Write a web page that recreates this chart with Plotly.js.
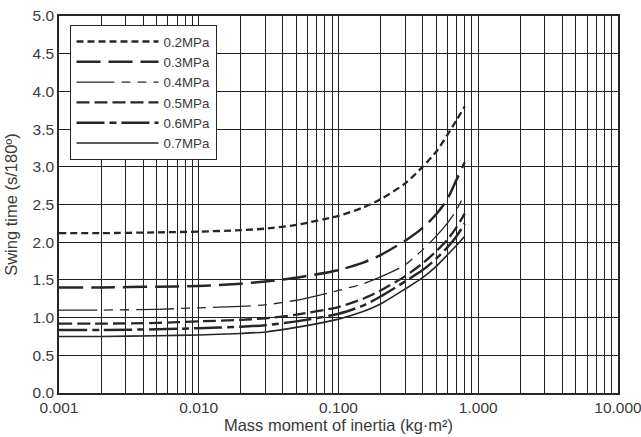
<!DOCTYPE html>
<html>
<head>
<meta charset="utf-8">
<script src="https://cdn.plot.ly/plotly-3.0.1.min.js"></script>
<style>html,body{margin:0;padding:0;background:#fff;}#chart{width:641px;height:437px;}</style>
</head>
<body>
<div id="chart"></div>
<script>
// Data
const inertia = [0.001, 0.002, 0.005, 0.01, 0.02, 0.03, 0.05, 0.1, 0.15, 0.2, 0.3, 0.4, 0.5, 0.6, 0.7, 0.8];
const p02 = [2.12, 2.12, 2.13, 2.14, 2.16, 2.18, 2.23, 2.35, 2.46, 2.57, 2.78, 3.00, 3.20, 3.42, 3.62, 3.80];
const p03 = [1.40, 1.40, 1.41, 1.42, 1.45, 1.48, 1.53, 1.63, 1.73, 1.83, 2.02, 2.19, 2.37, 2.57, 2.83, 3.06];
const p04 = [1.10, 1.10, 1.11, 1.13, 1.15, 1.17, 1.23, 1.36, 1.45, 1.54, 1.70, 1.90, 2.08, 2.25, 2.43, 2.64];
const p05 = [0.92, 0.92, 0.93, 0.95, 0.97, 0.99, 1.04, 1.14, 1.25, 1.36, 1.55, 1.72, 1.88, 2.03, 2.20, 2.38];
const p06 = [0.835, 0.835, 0.845, 0.86, 0.88, 0.90, 0.95, 1.05, 1.16, 1.28, 1.48, 1.63, 1.78, 1.93, 2.08, 2.25];
const p07 = [0.75, 0.75, 0.76, 0.77, 0.79, 0.81, 0.87, 0.98, 1.08, 1.18, 1.38, 1.53, 1.68, 1.83, 1.96, 2.08];
const seriesNames = ['0.2MPa', '0.3MPa', '0.4MPa', '0.5MPa', '0.6MPa', '0.7MPa'];
const decadeVals = [0.001, 0.01, 0.1, 1, 10];
const decadeLabels = ['0.001', '0.010', '0.100', '1.000', '10.000'];
const yTickVals = [0, 0.5, 1, 1.5, 2, 2.5, 3, 3.5, 4, 4.5, 5];
const yTickLabels = ['0.0', '0.5', '1.0', '1.5', '2.0', '2.5', '3.0', '3.5', '4.0', '4.5', '5.0'];

const series = [p02, p03, p04, p05, p06, p07];
const styles = [
  {width: 2.3, dash: '7px,4px'},
  {width: 2.5, dash: '24px,8px'},
  {width: 1.3, dash: '38px,7px,9px,7px,9px,7px'},
  {width: 2.3, dash: '13px,5px'},
  {width: 2.5, dash: '28px,5px,7px,5px'},
  {width: 1.6, dash: 'solid'}
];

const ink = '#262626';
const traces = series.map((ys, i) => ({
  x: inertia, y: ys, name: seriesNames[i], type: 'scatter', mode: 'lines',
  line: {color: ink, width: styles[i].width, dash: styles[i].dash, shape: 'spline', smoothing: 0.7}
}));

// grid lines at 1..9 of each decade; labels only on decades
const xTickVals = [], xTickText = [];
decadeVals.forEach((d, k) => {
  const lim = (k === decadeVals.length - 1) ? 1 : 9;
  for (let m = 1; m <= lim; m++) {
    xTickVals.push(d * m);
    xTickText.push(m === 1 ? decadeLabels[k] : '');
  }
});

const layout = {
  width: 641, height: 437,
  margin: {l: 59, r: 23, t: 16, b: 44},
  paper_bgcolor: '#fff', plot_bgcolor: '#fff',
  font: {family: 'Liberation Sans, Arial, sans-serif', size: 15.5, color: '#3a3a3a'},
  showlegend: true,
  legend: {
    x: 0.02, y: 0.976, xanchor: 'left', yanchor: 'top',
    bgcolor: '#fff', bordercolor: ink, borderwidth: 1.3,
    font: {size: 13.3, color: '#3a3a3a'}, itemwidth: 82, tracegroupgap: 0
  },
  xaxis: {
    type: 'log', range: [-3, 1],
    tickmode: 'array', tickvals: xTickVals, ticktext: xTickText, ticks: '',
    ticklabeloverflow: 'allow',
    showgrid: true, gridcolor: '#222', gridwidth: 1,
    showline: true, linecolor: ink, linewidth: 1.5, mirror: true, zeroline: false,
    title: {text: 'Mass moment of inertia (kg·m²)', font: {size: 16.5, color: '#3a3a3a'}, standoff: 2},
    automargin: false
  },
  yaxis: {
    range: [0, 5], tickmode: 'array', tickvals: yTickVals, ticktext: yTickLabels, ticks: '',
    showgrid: true, gridcolor: '#222', gridwidth: 1,
    showline: true, linecolor: ink, linewidth: 1.5, mirror: true, zeroline: false,
    title: {text: 'Swing time (s/180º)', font: {size: 16.5, color: '#3a3a3a'}, standoff: 11},
    automargin: false
  }
};

Plotly.newPlot('chart', traces, layout, {displayModeBar: false});
</script>
</body>
</html>
